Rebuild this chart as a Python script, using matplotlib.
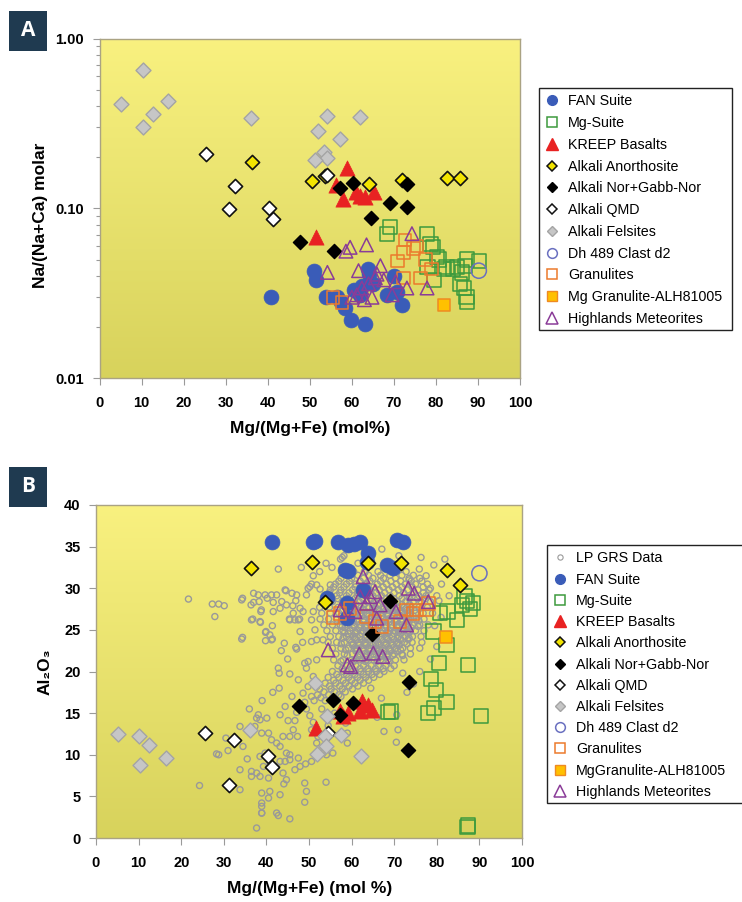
import numpy as np
import matplotlib
matplotlib.use("Agg")
import matplotlib.pyplot as plt
from matplotlib.lines import Line2D
from matplotlib.patches import Rectangle

plt.rcParams['font.family'] = ['Liberation Sans', 'DejaVu Sans']

# ---------------- Panel A data: Na/(Na+Ca) vs Mg# ----------------
fan_a_x = [40.8, 50.9, 51.5, 53.9, 56.5, 57.5, 58.5, 59.7, 63.1, 60.6, 62.4, 63.8, 64.2, 70.0, 70.8, 68.4, 72.0, 62.0, 65.0]
fan_a_y = [0.030, 0.043, 0.038, 0.030, 0.030, 0.028, 0.026, 0.022, 0.021, 0.033, 0.035, 0.044, 0.041, 0.040, 0.032, 0.031, 0.027, 0.031, 0.036]
mg_a_x = [69.0, 68.4, 77.9, 78.7, 79.3, 80.7, 81.9, 79.5, 87.4, 87.0, 86.2, 85.8, 86.6, 87.3, 90.2, 85.0, 80.3, 82.5, 84.0, 87.4, 78.0]
mg_a_y = [0.078, 0.071, 0.071, 0.062, 0.059, 0.050, 0.044, 0.038, 0.050, 0.046, 0.042, 0.036, 0.034, 0.030, 0.049, 0.045, 0.052, 0.045, 0.044, 0.028, 0.045]
kreep_a_x = [58.9, 56.3, 58.0, 62.0, 63.2, 65.2, 51.5, 61.0]
kreep_a_y = [0.172, 0.137, 0.114, 0.119, 0.117, 0.125, 0.068, 0.125]
anor_a_x = [36.2, 50.5, 53.7, 64.0, 71.9, 82.7, 85.7]
anor_a_y = [0.187, 0.145, 0.155, 0.139, 0.146, 0.152, 0.152]
nor_a_x = [57.1, 60.3, 69.0, 73.1, 73.1, 64.6, 47.6, 55.7]
nor_a_y = [0.132, 0.142, 0.107, 0.102, 0.139, 0.0875, 0.063, 0.0565]
qmd_a_x = [25.3, 32.3, 30.9, 40.2, 41.2, 54.2]
qmd_a_y = [0.21, 0.135, 0.099, 0.100, 0.087, 0.158]
fel_a_x = [5.0, 10.3, 10.3, 12.8, 16.3, 36.0, 54.0, 51.9, 57.3, 62.0, 53.4, 54.2, 51.3]
fel_a_y = [0.41, 0.65, 0.30, 0.36, 0.43, 0.34, 0.35, 0.285, 0.255, 0.345, 0.215, 0.198, 0.192]
dh_a_x = [90.2]
dh_a_y = [0.043]
gran_a_x = [72.7, 72.3, 74.7, 70.8, 77.5, 76.3, 72.3, 55.5, 57.7, 75.5, 79.0]
gran_a_y = [0.065, 0.055, 0.058, 0.049, 0.050, 0.039, 0.039, 0.030, 0.028, 0.060, 0.044]
mggran_a_x = [81.9]
mggran_a_y = [0.027]
hm_a_x = [74.3, 59.6, 58.6, 63.5, 54.2, 61.6, 66.8, 65.6, 64.0, 62.4, 61.2, 60.0, 64.8, 70.4, 69.6, 73.1, 77.9, 67.6, 63.0, 66.0]
hm_a_y = [0.071, 0.059, 0.056, 0.061, 0.042, 0.043, 0.046, 0.039, 0.036, 0.034, 0.031, 0.030, 0.030, 0.037, 0.031, 0.034, 0.034, 0.038, 0.029, 0.041]

# ---------------- Panel B data: Al2O3 vs Mg# ----------------
fan_b_x = [41.2, 51.0, 51.5, 56.9, 59.2, 60.5, 62.0, 63.9, 63.5, 58.5, 59.2, 70.6, 72.0, 68.2, 69.8, 62.7, 54.2, 59.0, 59.0]
fan_b_y = [35.6, 35.5, 35.7, 35.5, 35.2, 35.3, 35.6, 34.2, 33.2, 32.2, 32.1, 35.8, 35.5, 32.8, 32.4, 29.8, 28.8, 28.2, 26.4]
mg_b_x = [82.3, 80.6, 87.3, 78.6, 79.8, 82.3, 79.3, 78.0, 68.6, 69.2, 90.4, 87.4, 87.2, 80.8, 79.2, 84.7, 86.0, 87.0, 87.8, 88.5, 86.5, 82.5]
mg_b_y = [23.2, 21.0, 20.8, 19.1, 17.8, 16.3, 15.6, 15.0, 15.1, 15.2, 14.7, 1.5, 1.3, 27.0, 24.8, 26.2, 28.0, 28.5, 27.5, 28.2, 29.0, 27.2]
kreep_b_x = [51.6, 57.3, 59.2, 62.4, 63.9, 64.7, 62.0, 58.0]
kreep_b_y = [13.2, 15.2, 15.0, 16.4, 16.0, 15.4, 15.2, 14.6]
anor_b_x = [36.4, 50.8, 63.9, 71.7, 82.5, 85.5, 53.8]
anor_b_y = [32.4, 33.2, 33.0, 33.0, 32.2, 30.4, 28.3]
nor_b_x = [69.1, 64.7, 47.7, 55.7, 60.4, 57.3, 73.5, 73.3]
nor_b_y = [28.5, 24.5, 15.8, 16.6, 16.2, 14.8, 18.7, 10.6]
qmd_b_x = [25.6, 32.5, 40.3, 41.2, 31.2, 54.5]
qmd_b_y = [12.6, 11.8, 9.8, 8.5, 6.4, 12.6]
fel_b_x = [5.1, 10.2, 12.5, 16.4, 10.3, 36.2, 51.4, 54.2, 53.8, 54.0, 51.9, 57.5, 62.2]
fel_b_y = [12.5, 12.2, 11.2, 9.6, 8.8, 13.0, 18.6, 14.6, 12.2, 11.0, 10.1, 12.4, 9.9]
dh_b_x = [90.0]
dh_b_y = [31.8]
gran_b_x = [55.6, 57.3, 59.6, 63.5, 67.1, 72.9, 74.4, 75.2, 71.4, 78.0, 77.6, 65.5]
gran_b_y = [26.5, 27.0, 27.6, 26.6, 25.4, 27.4, 27.0, 27.4, 26.0, 28.2, 27.4, 26.0]
mggran_b_x = [82.2]
mggran_b_y = [24.2]
hm_b_x = [62.7, 62.0, 64.3, 65.5, 63.5, 66.7, 57.3, 60.8, 65.9, 70.4, 72.9, 73.3, 74.7, 78.0, 54.5, 61.8, 65.1, 67.3, 59.0, 59.8]
hm_b_y = [31.4, 29.0, 29.0, 29.6, 28.2, 28.0, 27.4, 27.2, 26.4, 27.2, 25.6, 30.0, 29.4, 28.4, 22.6, 22.1, 22.2, 21.8, 20.8, 20.6]

# LP GRS data: scattered points
lp_out_x = [21.7, 27.3, 28.8, 30.1, 27.9, 34.4, 37.0, 37.0, 38.3, 38.8, 36.8, 38.6, 34.4, 39.8, 41.4, 41.6, 40.2, 42.8, 44.6, 46.2,
            46.9, 48.2, 45.4, 47.8, 49.8, 39.8, 41.4, 44.2, 46.9, 50.6, 51.0, 52.6, 55.0, 57.8, 55.4, 67.1, 76.3, 79.3, 81.9, 81.1,
            82.9, 77.5, 75.9, 71.1, 34.2, 36.4, 36.5, 38.5, 38.7, 42.4, 40.8, 39.9, 41.2, 42.8, 43.0, 45.5, 46.7, 47.5, 47.9, 50.6,
            47.1, 49.0, 49.4, 45.5, 43.2, 44.4, 38.1, 37.7, 38.5, 40.1, 37.3, 36.5, 33.8, 28.3, 28.8, 38.9, 40.5, 41.2, 42.4, 43.2,
            43.9, 45.5, 46.3, 47.3, 44.7, 45.5, 43.2, 44.4, 38.5, 39.7, 40.5, 37.7, 36.5, 36.5, 39.3, 40.8, 42.4, 43.9, 44.7, 44.1,
            38.5, 40.5, 33.8, 38.9, 40.8, 40.5, 43.2, 38.9, 38.9, 42.4, 42.8, 45.5, 37.7, 49.0, 49.4, 49.0, 46.7, 47.9, 49.2, 50.6,
            52.1, 53.3, 54.1, 55.6, 54.0, 47.5, 45.5, 51.8, 52.1, 50.6, 59.0, 59.0, 67.6, 58.6, 49.0, 49.4, 50.2, 51.0, 47.1, 46.7,
            45.1, 48.6, 49.8, 50.6, 51.8, 51.0, 49.8, 51.8, 51.8, 53.3, 51.4, 50.6, 51.0, 44.4, 46.0, 47.1, 49.4, 50.2, 51.8, 43.6,
            44.7, 38.1, 39.7, 41.2, 34.2, 41.6, 43.2, 46.3, 47.9, 48.6, 70.6, 70.9, 72.0, 74.5, 78.5, 80.0, 79.5, 81.0, 57.4, 58.2,
            63.1, 52.5, 54.0, 61.5, 69.0, 73.5, 78.5, 80.5, 76.0, 73.0, 67.0, 64.5, 62.0, 56.0, 54.5, 57.5, 53.0, 66.0, 70.5, 35.5,
            31.0, 30.5, 34.5, 36.0, 39.0, 41.5, 43.0, 46.0, 47.5, 45.0, 43.5, 48.5, 24.3, 33.8, 38.9, 38.9]
lp_out_y = [28.7, 28.1, 28.1, 27.9, 26.6, 28.8, 29.4, 28.3, 28.4, 27.4, 26.3, 25.9, 24.1, 24.7, 25.5, 28.3, 28.8, 32.3, 29.7, 27.9,
            28.5, 32.5, 26.3, 26.3, 30.0, 23.7, 23.9, 23.4, 22.9, 30.5, 31.5, 29.9, 30.4, 33.7, 32.5, 34.7, 33.7, 32.8, 33.5, 30.5,
            29.1, 31.5, 32.3, 33.9, 23.9, 28.0, 26.2, 26.0, 27.2, 29.2, 24.4, 24.8, 23.8, 20.4, 19.8, 26.2, 26.2, 26.2, 24.8, 23.6,
            22.7, 21.0, 20.4, 19.7, 14.8, 15.8, 14.8, 14.4, 14.2, 14.4, 13.4, 13.2, 13.4, 10.1, 10.0, 12.6, 12.6, 11.8, 11.4, 11.0,
            12.2, 12.2, 13.0, 12.2, 10.2, 10.0, 9.2, 9.2, 9.8, 10.2, 9.4, 7.8, 7.4, 8.0, 8.6, 8.8, 8.6, 7.8, 7.0, 6.5,
            7.4, 7.2, 8.2, 5.4, 5.6, 4.8, 5.2, 3.8, 3.0, 3.0, 2.7, 2.3, 1.2, 4.3, 5.6, 6.6, 8.2, 8.6, 8.9, 9.2,
            10.2, 10.2, 10.0, 10.2, 6.7, 9.6, 9.4, 11.4, 12.2, 13.0, 11.4, 12.6, 12.8, 13.8, 16.3, 15.5, 14.7, 13.9, 15.1, 14.1,
            14.1, 17.4, 18.2, 17.0, 18.2, 19.4, 21.2, 21.4, 23.8, 23.8, 25.0, 26.2, 27.2, 29.8, 29.4, 29.2, 29.2, 30.2, 30.4, 28.4,
            28.0, 29.2, 29.2, 29.2, 28.6, 27.2, 27.6, 27.0, 27.6, 27.2, 14.8, 13.0, 19.8, 18.5, 21.5, 23.0, 25.5, 26.5, 33.5, 33.9,
            31.9, 32.0, 33.0, 33.0, 33.0, 31.0, 30.0, 28.5, 20.0, 17.5, 16.8, 18.0, 15.5, 15.0, 13.5, 17.0, 15.5, 14.5, 11.5, 9.5,
            10.5, 12.0, 11.0, 15.5, 16.5, 17.5, 18.0, 17.0, 19.0, 21.5, 22.5, 23.5, 6.3, 5.8, 4.2, 3.0]

# LP GRS dense core: one row of x readings per Al2O3 level
lp_core_rows_y = [32.0, 31.2, 30.5, 29.8, 29.1, 28.4, 27.7, 27.0, 26.3, 25.6, 24.9, 24.2, 23.5, 22.8, 22.1, 21.4, 20.7, 20.0,
                  19.3, 18.6, 17.9, 17.2, 16.5,
                  28.05, 27.35, 26.65, 25.95, 25.25, 24.55, 23.85, 23.15, 22.45, 21.75,
                  31.55, 30.85, 30.15, 29.45, 28.75, 20.35, 19.65, 18.95, 18.25, 17.55, 16.85,
                  27.52, 26.82, 26.12, 25.42, 24.72, 24.02, 23.32, 22.62, 21.92, 21.22]
lp_core_rows_x = [
    [60.5, 63.0, 66.2, 69.5, 72.8],
    [57.5, 60.0, 62.8, 65.0, 67.5, 70.3, 73.5, 76.0],
    [56.2, 58.8, 61.0, 63.5, 66.0, 68.2, 70.5, 72.6, 75.0, 77.8],
    [55.0, 57.5, 60.2, 62.0, 64.3, 66.5, 68.8, 71.0, 73.2, 75.6, 78.2],
    [54.0, 56.5, 58.8, 61.3, 63.2, 65.0, 67.0, 69.0, 71.2, 73.5, 75.8, 77.5, 80.0],
    [53.2, 55.5, 57.8, 59.8, 61.8, 63.6, 65.4, 67.2, 69.0, 70.8, 72.7, 74.5, 76.3, 78.5],
    [52.5, 54.8, 56.8, 58.6, 60.5, 62.2, 64.0, 65.6, 67.3, 69.0, 70.6, 72.3, 74.0, 75.8, 77.8],
    [53.0, 55.0, 57.0, 58.8, 60.4, 62.0, 63.6, 65.2, 66.8, 68.3, 70.0, 71.6, 73.2, 75.0, 76.8, 79.0],
    [52.6, 54.6, 56.5, 58.2, 59.8, 61.3, 62.8, 64.3, 65.8, 67.3, 68.8, 70.3, 71.8, 73.4, 75.2, 77.0],
    [53.5, 55.5, 57.3, 59.0, 60.6, 62.1, 63.6, 65.0, 66.5, 68.0, 69.5, 71.0, 72.6, 74.3, 76.0, 78.0],
    [54.2, 56.3, 58.0, 59.6, 61.2, 62.7, 64.2, 65.7, 67.2, 68.7, 70.2, 71.7, 73.3, 75.0, 77.0],
    [55.0, 57.0, 58.8, 60.4, 62.0, 63.5, 65.0, 66.5, 68.0, 69.5, 71.0, 72.6, 74.3, 76.3],
    [54.5, 56.5, 58.3, 60.0, 61.6, 63.2, 64.7, 66.2, 67.7, 69.2, 70.8, 72.4, 74.2, 76.5],
    [55.5, 57.5, 59.3, 61.0, 62.6, 64.2, 65.8, 67.3, 68.8, 70.4, 72.0, 73.8, 76.0],
    [56.3, 58.3, 60.2, 62.0, 63.6, 65.2, 66.8, 68.4, 70.0, 71.8, 73.8],
    [55.8, 58.0, 60.0, 61.8, 63.5, 65.2, 66.8, 68.5, 70.3, 72.3],
    [56.8, 59.0, 61.0, 62.8, 64.6, 66.3, 68.0, 70.0],
    [55.5, 58.0, 60.2, 62.2, 64.0, 65.8, 67.6],
    [54.5, 57.0, 59.3, 61.4, 63.3, 65.2],
    [53.8, 56.3, 58.6, 60.8, 62.8],
    [52.5, 55.2, 57.8, 60.2],
    [52.0, 54.6, 57.0],
    [51.2, 53.8, 56.5],
    [59.0, 61.0, 63.0, 64.8, 66.5, 68.2, 70.0, 71.8, 73.6],
    [57.8, 59.7, 61.4, 63.0, 64.8, 66.4, 68.0, 69.7, 71.3, 73.0, 74.8],
    [57.5, 59.2, 60.8, 62.4, 64.0, 65.5, 67.0, 68.5, 70.0, 71.5, 73.0, 74.5],
    [58.0, 59.7, 61.3, 62.8, 64.3, 65.8, 67.3, 68.8, 70.3, 71.8, 73.5],
    [58.5, 60.2, 61.8, 63.3, 64.8, 66.3, 67.8, 69.3, 70.8, 72.3, 74.0],
    [59.2, 60.8, 62.4, 64.0, 65.5, 67.0, 68.5, 70.0, 71.5, 73.2],
    [59.5, 61.0, 62.5, 64.0, 65.5, 67.0, 68.5, 70.0, 71.6, 73.3],
    [60.2, 61.8, 63.4, 65.0, 66.5, 68.0, 69.6, 71.2],
    [61.0, 62.8, 64.4, 66.0, 67.6, 69.2, 70.8],
    [61.5, 63.3, 65.0, 66.7, 68.4],
    [58.8, 61.5, 64.0, 66.8, 69.0, 71.8, 74.5],
    [57.0, 59.5, 62.0, 64.3, 66.8, 69.2, 71.5, 74.0, 76.5],
    [55.8, 58.2, 60.8, 62.8, 65.2, 67.4, 69.6, 71.8, 74.2, 76.8],
    [54.8, 57.2, 59.4, 61.5, 63.6, 65.8, 67.8, 70.0, 72.2, 74.5, 76.8],
    [54.5, 56.8, 58.9, 60.8, 62.6, 64.5, 66.2, 68.1, 69.9, 71.8, 73.6, 75.5, 77.4],
    [57.8, 60.0, 62.0, 63.8, 65.6, 67.4, 69.2],
    [56.5, 58.8, 60.8, 62.8, 64.8, 66.6],
    [55.8, 58.0, 60.0, 62.0, 64.0],
    [54.8, 57.2, 59.4, 61.5],
    [53.5, 56.0, 58.5],
    [52.8, 55.5],
    [60.0, 62.6, 65.0, 67.6, 70.2, 72.8],
    [58.4, 61.0, 63.6, 66.0, 68.6, 71.0, 73.8],
    [57.6, 60.4, 63.0, 65.4, 68.0, 70.6, 73.0, 75.8],
    [57.8, 60.6, 63.2, 65.6, 68.2, 70.6, 73.2, 75.6],
    [58.4, 61.0, 63.5, 66.0, 68.4, 71.0, 73.6],
    [58.0, 60.8, 63.2, 65.8, 68.3, 70.8, 73.5],
    [57.6, 60.4, 63.0, 65.6, 68.2, 70.6, 73.0],
    [58.6, 61.4, 64.0, 66.6, 69.0, 71.5],
    [59.0, 61.8, 64.4, 67.0, 69.6, 72.0],
    [57.5, 60.5, 63.2, 66.0, 68.8],
]

legend_a = ['FAN Suite', 'Mg-Suite', 'KREEP Basalts', 'Alkali Anorthosite', 'Alkali Nor+Gabb-Nor',
            'Alkali QMD', 'Alkali Felsites', 'Dh 489 Clast d2', 'Granulites', 'Mg Granulite-ALH81005',
            'Highlands Meteorites']
legend_b = ['LP GRS Data', 'FAN Suite', 'Mg-Suite', 'KREEP Basalts', 'Alkali Anorthosite', 'Alkali Nor+Gabb-Nor',
            'Alkali QMD', 'Alkali Felsites', 'Dh 489 Clast d2', 'Granulites', 'MgGranulite-ALH81005',
            'Highlands Meteorites']

# ---------------- styles ----------------
STY = {
    'fan':    dict(marker='o', s=115, facecolors='#3a5cb8', edgecolors='#3a5cb8', linewidths=0.5),
    'mg':     dict(marker='s', s=105, facecolors='none', edgecolors='#3d9a3d', linewidths=1.1),
    'kreep':  dict(marker='^', s=120, facecolors='#e82222', edgecolors='#e82222', linewidths=0.5),
    'anor':   dict(marker='D', s=52, facecolors='#f2e400', edgecolors='#111111', linewidths=1.2),
    'nor':    dict(marker='D', s=52, facecolors='#000000', edgecolors='#000000', linewidths=1.0),
    'qmd':    dict(marker='D', s=52, facecolors='white', edgecolors='#111111', linewidths=1.2),
    'fel':    dict(marker='D', s=58, facecolors='#c6c6c6', edgecolors='#a4a4a4', linewidths=1.0),
    'dh':     dict(marker='o', s=120, facecolors='none', edgecolors='#6a70c0', linewidths=1.1),
    'gran':   dict(marker='s', s=82, facecolors='none', edgecolors='#ec7a2c', linewidths=1.1),
    'mggran': dict(marker='s', s=78, facecolors='#ffc000', edgecolors='#ef8a22', linewidths=1.1),
    'hm':     dict(marker='^', s=95, facecolors='none', edgecolors='#8a3c98', linewidths=1.1),
    'lp':     dict(marker='o', s=19, facecolors='none', edgecolors='#999999', linewidths=1.0),
}
LEG = {
    'fan':    dict(marker='o', ms=7, mfc='#3a5cb8', mec='#3a5cb8'),
    'mg':     dict(marker='s', ms=7, mfc='none', mec='#3d9a3d', mew=1.1),
    'kreep':  dict(marker='^', ms=8, mfc='#e82222', mec='#e82222'),
    'anor':   dict(marker='D', ms=5.5, mfc='#f2e400', mec='#111111', mew=1.1),
    'nor':    dict(marker='D', ms=5.5, mfc='#000000', mec='#000000'),
    'qmd':    dict(marker='D', ms=5.5, mfc='white', mec='#111111', mew=1.1),
    'fel':    dict(marker='D', ms=5.5, mfc='#c6c6c6', mec='#a4a4a4'),
    'dh':     dict(marker='o', ms=7, mfc='none', mec='#6a70c0', mew=1.1),
    'gran':   dict(marker='s', ms=7, mfc='none', mec='#ec7a2c', mew=1.1),
    'mggran': dict(marker='s', ms=7, mfc='#ffc000', mec='#ef8a22'),
    'hm':     dict(marker='^', ms=8, mfc='none', mec='#8a3c98', mew=1.1),
    'lp':     dict(marker='o', ms=3.8, mfc='none', mec='#9a9a9a', mew=0.8),
}

W, H = 742, 902
fig = plt.figure(figsize=(W / 100, H / 100), dpi=100)


def fpos(l, t, r, b):
    return [l / W, 1 - b / H, (r - l) / W, (b - t) / H]


def make_axes(box):
    bg = fig.add_axes(box, zorder=0)
    grad = np.linspace(0, 1, 256)[:, None]
    top = np.array([0.975, 0.945, 0.50])
    bot = np.array([0.845, 0.825, 0.36])
    img = top[None, None, :] * (1 - grad[:, :, None]) + bot[None, None, :] * grad[:, :, None]
    bg.imshow(img, aspect='auto', extent=[0, 1, 0, 1], origin='upper')
    bg.set_axis_off()
    ax = fig.add_axes(box, zorder=1)
    ax.patch.set_alpha(0)
    for sp in ax.spines.values():
        sp.set_color('#aaa383')
        sp.set_linewidth(1.0)
    ax.tick_params(axis='both', which='both', color='#9a9a9a', labelsize=10.5, width=0.8)
    ax.tick_params(axis='x', which='major', length=5, pad=8)
    ax.tick_params(axis='y', which='major', length=5, pad=6)
    return ax


def panel_tag(letter, l, t, r, b):
    fig.patches.append(Rectangle((l / W, 1 - b / H), (r - l) / W, (b - t) / H,
                                 transform=fig.transFigure, facecolor='#1f3a50', edgecolor='none'))
    fig.text((l + r) / 2 / W, 1 - (t + b) / 2 / H, letter, color='white', fontsize=15,
             fontweight='bold', ha='center', va='center', family=['Open Sans', 'DejaVu Sans'])


def legend_frame(l, t, r, b):
    fig.patches.append(Rectangle((l / W, 1 - b / H), (r - l) / W, (b - t) / H,
                                 transform=fig.transFigure, facecolor='white', edgecolor='#222222',
                                 linewidth=1.0, zorder=0))


def handles(keys, labels):
    return [Line2D([], [], linestyle='none', label=lab, **LEG[k]) for k, lab in zip(keys, labels)]


# ---------------- Panel A ----------------
axA = make_axes(fpos(99.5, 38.5, 520, 378.3))
axA.set_yscale('log')
series_a = [('fan', fan_a_x, fan_a_y), ('mg', mg_a_x, mg_a_y), ('kreep', kreep_a_x, kreep_a_y),
            ('anor', anor_a_x, anor_a_y), ('nor', nor_a_x, nor_a_y), ('qmd', qmd_a_x, qmd_a_y),
            ('fel', fel_a_x, fel_a_y), ('dh', dh_a_x, dh_a_y), ('gran', gran_a_x, gran_a_y),
            ('mggran', mggran_a_x, mggran_a_y), ('hm', hm_a_x, hm_a_y)]
for k, xs, ys in series_a:
    axA.scatter(xs, ys, zorder=3, **STY[k])
axA.set_xlim(0, 100)
axA.set_ylim(0.01, 1.0)
axA.set_xticks(range(0, 101, 10))
axA.set_yticks([0.01, 0.1, 1.0])
axA.set_yticklabels(['0.01', '0.10', '1.00'], fontweight='bold')
axA.set_xticklabels([str(v) for v in range(0, 101, 10)], fontweight='bold')
axA.tick_params(axis='y', which='minor', length=3, color='#9a9a9a')
axA.yaxis.set_minor_formatter(matplotlib.ticker.NullFormatter())
fig.text(310 / W, 1 - 429 / H, 'Mg/(Mg+Fe) (mol%)', fontsize=12.5, fontweight='bold', ha='center', va='center')
fig.text(41 / W, 1 - 215 / H, 'Na/(Na+Ca) molar', fontsize=12.5, fontweight='bold', ha='center', va='center',
         rotation=90)
panel_tag('A', 9, 11, 47, 51)
legend_frame(539, 88, 732, 330)
fig.legend(handles=handles([s[0] for s in series_a], legend_a), loc='upper left',
           bbox_to_anchor=(539 / W, 1 - 88 / H), frameon=False, fontsize=10.3,
           labelspacing=0.54, handlelength=0.9, handletextpad=0.7, borderpad=0.45,
           borderaxespad=0)

# ---------------- Panel B ----------------
axB = make_axes(fpos(96, 505, 522, 838))
lp_x = list(lp_out_x)
lp_y = list(lp_out_y)
for yv, row in zip(lp_core_rows_y, lp_core_rows_x):
    lp_x += row
    lp_y += [yv] * len(row)
axB.scatter(lp_x, lp_y, zorder=2, **STY['lp'])
series_b = [('fan', fan_b_x, fan_b_y), ('mg', mg_b_x, mg_b_y), ('kreep', kreep_b_x, kreep_b_y),
            ('anor', anor_b_x, anor_b_y), ('nor', nor_b_x, nor_b_y), ('qmd', qmd_b_x, qmd_b_y),
            ('fel', fel_b_x, fel_b_y), ('dh', dh_b_x, dh_b_y), ('gran', gran_b_x, gran_b_y),
            ('mggran', mggran_b_x, mggran_b_y), ('hm', hm_b_x, hm_b_y)]
for k, xs, ys in series_b:
    axB.scatter(xs, ys, zorder=3, **STY[k])
axB.set_xlim(0, 100)
axB.set_ylim(0, 40)
axB.set_xticks(range(0, 101, 10))
axB.set_yticks(range(0, 41, 5))
axB.set_xticklabels([str(v) for v in range(0, 101, 10)], fontweight='bold')
axB.set_yticklabels([str(v) for v in range(0, 41, 5)], fontweight='bold')
fig.text(310 / W, 1 - 888 / H, 'Mg/(Mg+Fe) (mol %)', fontsize=12.5, fontweight='bold', ha='center', va='center')
fig.text(45 / W, 1 - 672 / H, 'Al\u2082O\u2083', fontsize=12.5, fontweight='bold', ha='center', va='center',
         rotation=90, family=['Liberation Sans', 'DejaVu Sans'])
panel_tag('B', 9, 467, 47, 507)
legend_frame(547, 545, 750, 803)
fig.legend(handles=handles(['lp'] + [s[0] for s in series_b], legend_b), loc='upper left',
           bbox_to_anchor=(547 / W, 1 - 545 / H), frameon=False, fontsize=10.3,
           labelspacing=0.505, handlelength=0.9, handletextpad=0.7, borderpad=0.45,
           borderaxespad=0)

fig.savefig('out.png', dpi=100, facecolor='white')
